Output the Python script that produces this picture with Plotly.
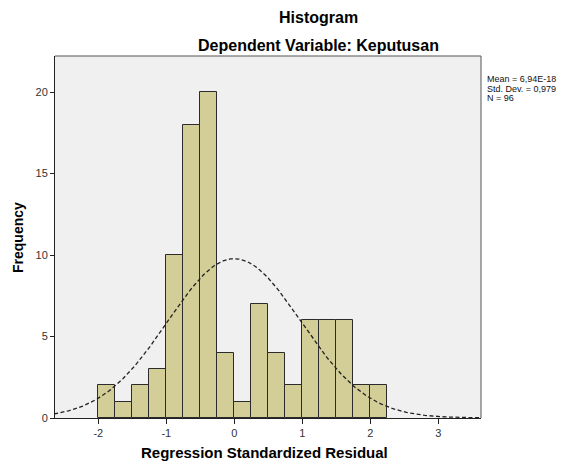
import numpy as np
import plotly.graph_objects as go

# Data
bin_start = -2.0
bin_width = 0.25
counts = [2, 1, 2, 3, 10, 18, 20, 4, 1, 7, 4, 2, 6, 6, 6, 2, 2]
mean_val = 6.94e-18
std_dev = 0.979
n_obs = 96
x_ticks = [-2, -1, 0, 1, 2, 3]
y_ticks = [0, 5, 10, 15, 20]
stats_lines = ["Mean = 6,94E-18", "Std. Dev. = 0,979", "N = 96"]

centers = [bin_start + bin_width * (i + 0.5) for i in range(len(counts))]

# Fitted normal curve (as SPSS draws it) from the stated statistics
xs = np.linspace(-2.65, 3.65, 300)
ys = n_obs * bin_width / (std_dev * np.sqrt(2 * np.pi)) * np.exp(-0.5 * ((xs - mean_val) / std_dev) ** 2)

font = "Arial, Liberation Sans, sans-serif"
W, H = 576, 464
ML, MR, MT, MB = 55, 95, 56, 46
PW, PH = W - ML - MR, H - MT - MB

def px(x):
    return (x - ML) / PW

def py(y):
    return (H - y - MB) / PH

fig = go.Figure()
fig.add_trace(go.Bar(
    x=centers, y=counts, width=bin_width,
    marker=dict(color="#D3CE97", line=dict(color="#2b2b2b", width=1)),
    showlegend=False, hoverinfo="skip",
))
fig.add_trace(go.Scatter(
    x=xs, y=ys, mode="lines",
    line=dict(color="#222222", width=1.3, dash="4px,2.5px"),
    showlegend=False, hoverinfo="skip",
))

fig.update_layout(
    width=W, height=H,
    margin=dict(l=ML, r=MR, t=MT, b=MB),
    paper_bgcolor="white", plot_bgcolor="#F0F0F0",
    font=dict(family=font, color="#333333", size=11),
    bargap=0,
    xaxis=dict(
        range=[-2.637, 3.628], tickvals=x_ticks, ticktext=[str(v) for v in x_ticks],
        ticks="outside", ticklen=5, tickcolor="#222", showgrid=False, zeroline=False,
        showline=True, linecolor="#222", linewidth=1, mirror=False,
        tickfont=dict(size=11, color="#333"),
    ),
    yaxis=dict(
        range=[0, 22.22], tickvals=y_ticks, ticktext=[str(v) for v in y_ticks],
        ticks="outside", ticklen=4, tickcolor="#222", showgrid=False, zeroline=False,
        showline=True, linecolor="#222", linewidth=1, mirror=False,
        tickfont=dict(size=11, color="#333"),
    ),
    shapes=[
        dict(type="line", xref="paper", yref="paper", x0=0, x1=1, y0=1, y1=1,
             line=dict(color="#555", width=1)),
        dict(type="line", xref="paper", yref="paper", x0=1, x1=1, y0=0, y1=1,
             line=dict(color="#555", width=1)),
    ],
)

ann = [
    dict(text="<b>Histogram</b>", x=318, y=17, size=16),
    dict(text="<b>Dependent Variable: Keputusan</b>", x=318, y=45, size=16),
    dict(text="<b>Regression Standardized Residual</b>", x=264, y=452, size=15),
]
for a in ann:
    fig.add_annotation(
        text=a["text"], xref="paper", yref="paper",
        x=px(a["x"]), y=py(a["y"]),
        xanchor="center", yanchor="middle", showarrow=False,
        font=dict(family=font, size=a["size"], color="#000"),
    )
fig.add_annotation(
    text="<b>Frequency</b>", xref="paper", yref="paper",
    x=px(18), y=py(238), textangle=-90,
    xanchor="center", yanchor="middle", showarrow=False,
    font=dict(family=font, size=14, color="#000"),
)
for i, s in enumerate(stats_lines):
    fig.add_annotation(
        text=s, xref="paper", yref="paper",
        x=px(485), y=py(79.5 + 9.3 * i),
        xanchor="left", yanchor="middle", showarrow=False,
        font=dict(family=font, size=9, color="#111"),
    )

fig.write_html("out.html", config={"displayModeBar": False},
               post_script="document.body.style.margin='0';")
